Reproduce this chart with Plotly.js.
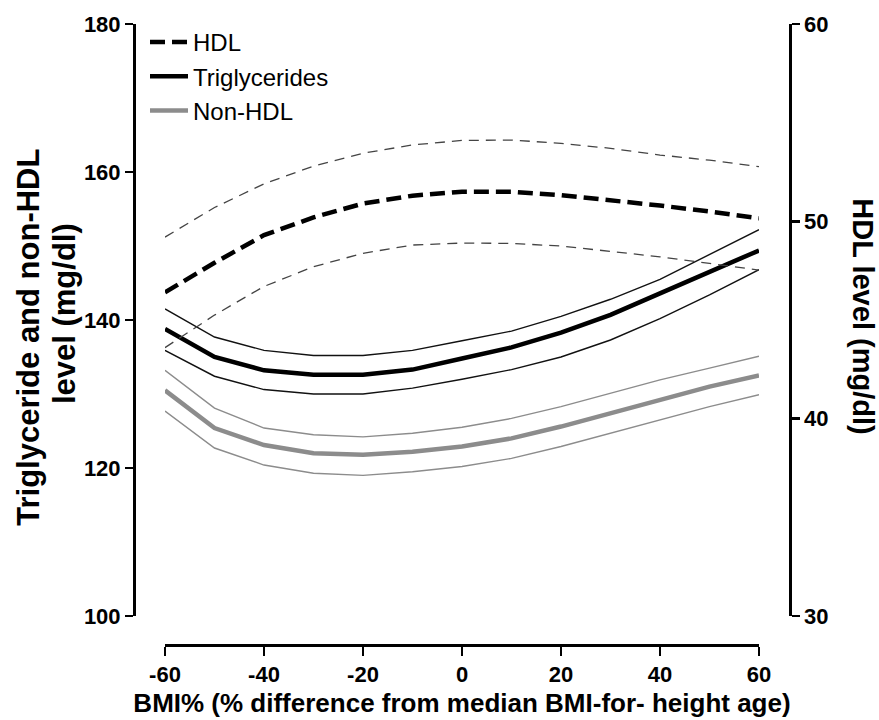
<!DOCTYPE html>
<html>
<head>
<meta charset="utf-8">
<script src="https://cdn.plot.ly/plotly-3.0.1.min.js"></script>
<style>html,body{margin:0;padding:0;background:#fff;}#chart{width:879px;height:720px;}</style>
</head>
<body>
<div id="chart"></div>
<script>
// BMI% values (x)
const bmi = [-60, -50, -40, -30, -20, -10, 0, 10, 20, 30, 40, 50, 60];

// Triglycerides (left axis, mg/dl)
const tgMean  = [138.8, 135.0, 133.2, 132.6, 132.6, 133.3, 134.8, 136.3, 138.3, 140.7, 143.6, 146.5, 149.4];
const tgUpper = [141.5, 137.7, 135.9, 135.2, 135.2, 135.9, 137.2, 138.5, 140.5, 142.8, 145.5, 148.8, 152.2];
const tgLower = [135.9, 132.4, 130.6, 130.0, 130.0, 130.8, 132.0, 133.3, 135.0, 137.3, 140.2, 143.4, 146.8];

// Non-HDL (left axis, mg/dl)
const nhMean  = [130.5, 125.4, 123.1, 122.0, 121.8, 122.2, 122.9, 124.0, 125.6, 127.4, 129.2, 131.0, 132.5];
const nhUpper = [133.2, 128.1, 125.4, 124.5, 124.2, 124.7, 125.5, 126.7, 128.3, 130.1, 131.9, 133.5, 135.1];
const nhLower = [127.7, 122.7, 120.4, 119.3, 119.0, 119.5, 120.2, 121.3, 122.9, 124.7, 126.5, 128.3, 129.9];

// HDL (right axis, mg/dl)
const hdlMean  = [46.4, 47.9, 49.3, 50.2, 50.9, 51.3, 51.5, 51.5, 51.33, 51.08, 50.8, 50.5, 50.15];
const hdlUpper = [49.2, 50.7, 51.9, 52.8, 53.45, 53.87, 54.1, 54.12, 53.95, 53.7, 53.36, 53.1, 52.77];
const hdlLower = [43.6, 45.25, 46.7, 47.7, 48.38, 48.8, 48.9, 48.88, 48.75, 48.46, 48.2, 47.87, 47.53];

const leftTicks = [100, 120, 140, 160, 180];
const rightTicks = [30, 40, 50, 60];
const xTicks = [-60, -40, -20, 0, 20, 40, 60];

const GRAY = '#8c8c8c';
const FONT = 'Liberation Sans, Arial, Helvetica, sans-serif';

const traces = [
  {x: bmi, y: hdlUpper, yaxis: 'y2', mode: 'lines', showlegend: false, hoverinfo: 'skip',
   line: {color: '#444', width: 1.3, dash: '10px,7px'}},
  {x: bmi, y: hdlLower, yaxis: 'y2', mode: 'lines', showlegend: false, hoverinfo: 'skip',
   line: {color: '#444', width: 1.3, dash: '10px,7px'}},
  {x: bmi, y: tgUpper, mode: 'lines', showlegend: false, hoverinfo: 'skip',
   line: {color: '#111', width: 1.4}},
  {x: bmi, y: tgLower, mode: 'lines', showlegend: false, hoverinfo: 'skip',
   line: {color: '#111', width: 1.4}},
  {x: bmi, y: nhUpper, mode: 'lines', showlegend: false, hoverinfo: 'skip',
   line: {color: GRAY, width: 1.4}},
  {x: bmi, y: nhLower, mode: 'lines', showlegend: false, hoverinfo: 'skip',
   line: {color: GRAY, width: 1.4}},
  {x: bmi, y: hdlMean, yaxis: 'y2', mode: 'lines', name: 'HDL',
   line: {color: '#000', width: 4.5, dash: '15px,7px'}},
  {x: bmi, y: tgMean, mode: 'lines', name: 'Triglycerides',
   line: {color: '#000', width: 4.5}},
  {x: bmi, y: nhMean, mode: 'lines', name: 'Non-HDL',
   line: {color: GRAY, width: 4.5}}
];

const tickFont = {family: FONT, size: 22, color: '#000', weight: 'bold'};
const titleFont = (s) => ({family: FONT, size: s, color: '#000', weight: 'bold'});

const layout = {
  width: 879, height: 720,
  paper_bgcolor: '#fff', plot_bgcolor: '#fff',
  margin: {l: 134, r: 89, t: 24, b: 75},
  showlegend: true,
  legend: {
    x: 11 / 656, y: 1.0065, xanchor: 'left', yanchor: 'top',
    itemwidth: 38,
    font: {family: FONT, size: 24, color: '#000'},
    bgcolor: 'rgba(0,0,0,0)', borderwidth: 0,
    traceorder: 'normal'
  },
  xaxis: {
    domain: [31/656, 625/656],
    range: [-60, 60],
    anchor: 'free', position: 0,
    tickmode: 'array', tickvals: xTicks, ticktext: xTicks.map(String),
    ticks: 'outside', ticklen: 9, tickwidth: 2.5, tickcolor: '#000',
    showline: true, linecolor: '#000', linewidth: 2.5,
    showgrid: false, zeroline: false,
    tickfont: tickFont,
    title: {text: 'BMI% (% difference from median BMI-for- height age)',
            font: titleFont(26), standoff: 7}
  },
  yaxis: {
    domain: [29/621, 1],
    range: [100, 180],
    anchor: 'free', position: 0,
    tickmode: 'array', tickvals: leftTicks, ticktext: leftTicks.map(String),
    ticks: 'outside', ticklen: 8, tickwidth: 2.5, tickcolor: '#000',
    showline: true, linecolor: '#000', linewidth: 2.5,
    showgrid: false, zeroline: false,
    tickfont: tickFont
  },
  yaxis2: {
    overlaying: 'y', side: 'right',
    range: [30, 60],
    anchor: 'free', position: 1,
    tickmode: 'array', tickvals: rightTicks, ticktext: rightTicks.map(String),
    ticks: 'outside', ticklen: 8, tickwidth: 2.5, tickcolor: '#000',
    showline: true, linecolor: '#000', linewidth: 2.5,
    showgrid: false, zeroline: false,
    tickfont: tickFont
  },
  annotations: [
    {xref: 'paper', yref: 'y', x: (29 - 134) / 656, y: 137.6, xanchor: 'center', yanchor: 'middle',
     text: 'Triglyceride and non-HDL', textangle: -90, showarrow: false, font: titleFont(31)},
    {xref: 'paper', yref: 'y', x: (64 - 134) / 656, y: 140.8, xanchor: 'center', yanchor: 'middle',
     text: 'level (mg/dl)', textangle: -90, showarrow: false, font: titleFont(31)},
    {xref: 'paper', yref: 'y', x: (863 - 134) / 656, y: 140.5, xanchor: 'center', yanchor: 'middle',
     text: 'HDL level (mg/dl)', textangle: 90, showarrow: false, font: titleFont(29)}
  ]
};

Plotly.newPlot('chart', traces, layout, {staticPlot: true, displayModeBar: false});
</script>
</body>
</html>
